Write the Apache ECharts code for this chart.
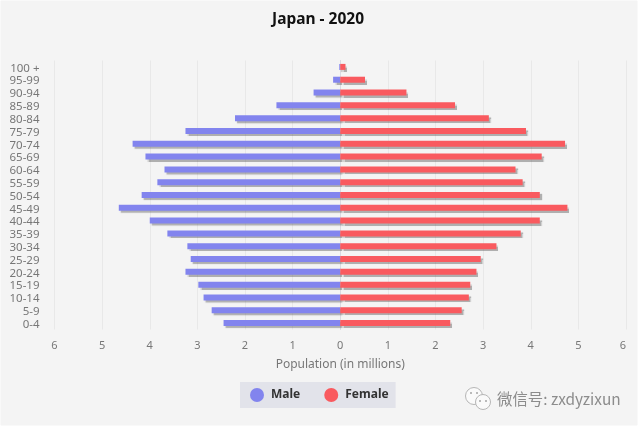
<!DOCTYPE html>
<html>
<head>
<meta charset="utf-8">
<title>Japan - 2020</title>
<script src="https://cdn.jsdelivr.net/npm/echarts@6/dist/echarts.min.js"></script>
<style>
  html, body { margin: 0; padding: 0; background: #fff; }
  #panel { position: absolute; left: 1px; top: 1px; width: 636px; height: 424px; background: #f4f4f4; box-shadow: 0 0 1px #d8d8d8; }
  #chart { position: absolute; left: 0; top: 0; width: 641px; height: 428px; }
</style>
</head>
<body>
<div id="panel"></div>
<div id="chart"></div>
<script>
const ageGroups = ['100 +', '95-99', '90-94', '85-89', '80-84', '75-79', '70-74', '65-69', '60-64', '55-59', '50-54',
  '45-49', '40-44', '35-39', '30-34', '25-29', '20-24', '15-19', '10-14', '5-9', '0-4'];
// male values are negative so they run left of zero
const male = [-0.02, -0.15, -0.56, -1.34, -2.21, -3.25, -4.36, -4.09, -3.69, -3.84, -4.17,
  -4.65, -4.0, -3.63, -3.21, -3.14, -3.25, -2.98, -2.87, -2.7, -2.45];
const female = [0.11, 0.52, 1.39, 2.41, 3.12, 3.9, 4.72, 4.23, 3.68, 3.83, 4.19,
  4.77, 4.19, 3.79, 3.28, 2.95, 2.86, 2.73, 2.7, 2.55, 2.31];

const font = '"Noto Sans", sans-serif';
const myChart = echarts.init(document.getElementById('chart'));

const barStyle = (color) => ({
  color: color,
  shadowColor: 'rgba(90, 90, 90, 0.45)',
  shadowBlur: 1,
  shadowOffsetX: 2,
  shadowOffsetY: 2,
});

const option = {
  animation: false,
  title: {
    text: 'Japan - 2020',
    left: 267,
    top: 7,
    textStyle: { color: '#111', fontSize: 15.5, fontWeight: 'bold', fontFamily: font },
  },
  legend: {
    data: ['Male', 'Female'],
    left: 240,
    top: 382,
    padding: [6, 7, 6, 10],
    itemGap: 24,
    itemWidth: 14,
    itemHeight: 14,
    icon: 'circle',
    backgroundColor: '#e2e3ea',
    textStyle: { color: '#333', fontSize: 12, fontWeight: 'bold', fontFamily: font, padding: [0, 0, 0, 2] },
  },
  grid: { left: 54.5, right: 15, top: 60.5, height: 269 },
  xAxis: {
    type: 'value',
    min: -6,
    max: 6,
    interval: 1,
    name: 'Population (in millions)',
    nameLocation: 'middle',
    nameGap: 29,
    nameTextStyle: { color: '#777', fontSize: 12, fontFamily: font },
    axisLine: { show: false },
    axisTick: { show: false },
    axisLabel: {
      color: '#777',
      fontSize: 11,
      fontFamily: font,
      margin: 11,
      alignMaxLabel: 'right',
      formatter: (v) => Math.abs(v),
    },
    splitLine: { lineStyle: { color: '#e8e8e8', width: 1 } },
  },
  yAxis: {
    type: 'category',
    data: ageGroups,
    inverse: true,
    axisLine: { show: true, lineStyle: { color: '#d9dae2', width: 1 } },
    axisTick: { show: false },
    axisLabel: { color: '#777', fontSize: 11.5, fontFamily: font, margin: 15, interval: 0, verticalAlign: 'top', lineHeight: 3 },
  },
  series: [
    { name: 'Male', type: 'bar', data: male, barWidth: 6, barGap: '-100%', itemStyle: barStyle('#8284ee') },
    { name: 'Female', type: 'bar', data: female, barWidth: 6, itemStyle: barStyle('#f95a5f') },
  ],
  graphic: [
    // watermark icon, two chat bubbles
    { type: 'circle', shape: { cx: 474, cy: 396, r: 8.5 }, style: { fill: '#fafafa', stroke: '#b5b5b5', lineWidth: 1 } },
    { type: 'circle', shape: { cx: 483, cy: 402, r: 7.5 }, style: { fill: '#fafafa', stroke: '#b5b5b5', lineWidth: 1 } },
    { type: 'circle', shape: { cx: 471, cy: 393, r: 1 }, style: { fill: '#a5a5a5' } },
    { type: 'circle', shape: { cx: 477, cy: 393, r: 1 }, style: { fill: '#a5a5a5' } },
    { type: 'circle', shape: { cx: 480, cy: 401, r: 1 }, style: { fill: '#a5a5a5' } },
    { type: 'circle', shape: { cx: 486, cy: 401, r: 1 }, style: { fill: '#a5a5a5' } },
    {
      type: 'text',
      left: 497,
      top: 391,
      style: { text: '微信号: zxdyzixun', fill: '#8c8c8c', fontSize: 15.4, fontFamily: '"Noto Sans CJK SC", sans-serif' },
    },
  ],
};

option && myChart.setOption(option);
</script>
</body>
</html>
